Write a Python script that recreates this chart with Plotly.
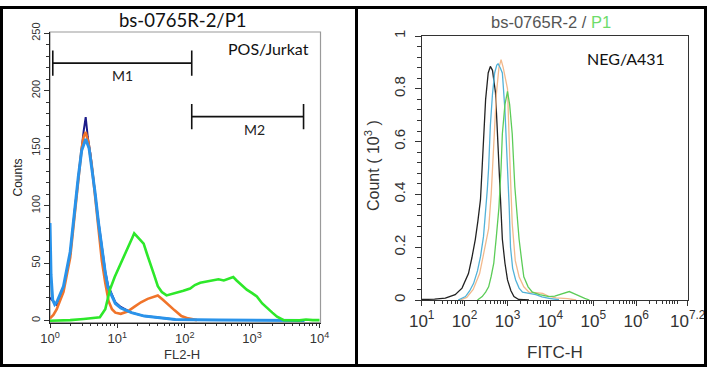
import math
import plotly.graph_objects as go

W, H = 707, 368

# ---------------- Left panel data (FL2-H vs Counts) ----------------
blue_x = [1.0, 1.035, 1.096, 1.175, 1.259, 1.585, 1.995, 2.344, 2.630, 2.951, 3.388, 3.802, 4.266,
          4.677, 5.248, 5.888, 6.607, 7.244, 8.318, 9.333, 11.22, 16.22, 25.12, 39.81, 72.44, 316.2, 2344, 6000]
blue_y = [85, 40, 18, 14, 16, 30, 60, 100, 125, 148, 158, 150, 130,
          111, 85, 61, 42, 29, 21, 15, 11, 7, 4, 2.5, 1, 0.6, 0.3, 0.2]

navy_x = [1.0, 1.259, 1.585, 1.995, 2.344, 2.630, 2.951, 3.162, 3.388, 3.631, 3.981, 4.266, 4.677,
          5.248, 5.888, 6.607, 7.244, 8.318, 9.333, 11.22, 16.22, 25.12, 39.81, 72.44]
navy_y = [20, 14, 28, 58, 98, 124, 152, 165, 177, 160, 145, 128, 110,
          86, 62, 43, 31, 22, 16, 12, 7, 4, 2.5, 1]

orange_x = [1.0, 1.122, 1.259, 1.585, 1.995, 2.344, 2.630, 2.951, 3.162, 3.388, 3.715, 4.169, 4.677,
            5.248, 5.888, 6.607, 7.413, 8.318, 9.333, 11.22, 14.13, 17.78, 22.39, 28.18, 35.48, 39.81,
            47.86, 56.23, 70.79, 89.13, 112.2, 151.4]
orange_y = [2, 5, 10, 25, 55, 95, 125, 150, 160, 164, 155, 135, 108,
            78, 52, 33, 17, 10, 7, 6, 8, 12, 16, 19, 21, 22,
            18, 14, 9, 4, 2, 0.5]

green_x = [1.0, 1.995, 3.162, 3.981, 5.495, 6.607, 7.762, 9.120, 10.96, 12.59, 14.45, 16.60, 17.78,
           19.95, 24.55, 27.54, 30.90, 35.48, 39.81, 45.71, 53.70, 63.10, 75.86, 95.50, 120.2, 141.3,
           169.8, 208.9, 263.0, 316.2, 380.2, 467.7, 524.8, 588.8, 707.9, 831.8, 1000, 1175, 1413,
           1660, 1995, 2344, 2951, 5012, 6310, 7943, 10000]
green_y = [0, 0.5, 1.5, 2, 3, 10, 27, 38, 48, 56, 64, 72, 76,
           73, 67, 58, 50, 39, 30, 25, 22, 23, 24, 26, 28, 31,
           33, 34, 35, 36, 35, 37, 38, 35, 31, 27, 24, 21, 15,
           11, 7, 3.5, 0.5, 0.3, 1, 0.5, 0.5]

# Gates: [x start, x end, count level]
gate_m1 = [1.1, 127, 224]
gate_m2 = [127, 5800, 177.5]
gate_half_height = 11

left_y_ticks = [0, 50, 100, 150, 200, 250]
left_x_ticks = [1, 10, 100, 1000, 10000]
left_x_text = ["10<sup>0</sup>", "10<sup>1</sup>", "10<sup>2</sup>", "10<sup>3</sup>", "10<sup>4</sup>"]

# ---------------- Right panel data (FITC-H vs Count x10^3) ----------------
black_x = [10, 19.95, 35.48, 60.26, 87.10, 123.0, 147.9, 177.8, 204.2, 234.4, 257.0, 281.8, 309.0,
           354.8, 398.1, 446.7, 524.8, 575.4, 631.0, 691.8, 758.6, 871.0, 1000, 1202, 1413, 1820, 3162]
black_y = [0.002, 0.003, 0.007, 0.02, 0.045, 0.1, 0.16, 0.23, 0.3, 0.38, 0.506, 0.64, 0.76,
           0.86, 0.885, 0.87, 0.785, 0.65, 0.506, 0.35, 0.23, 0.14, 0.076, 0.035, 0.013, 0.002, 0]

lblue_x = [70.79, 104.7, 131.8, 162.2, 199.5, 234.4, 275.4, 309.0, 338.8, 363.1, 398.1, 446.7, 501.2,
           562.3, 602.6, 676.1, 758.6, 871.0, 1000, 1096, 1175, 1318, 1549, 1862, 2239, 3162, 4571,
           6310, 9333, 15850]
lblue_y = [0, 0.013, 0.035, 0.063, 0.11, 0.164, 0.24, 0.33, 0.42, 0.5, 0.66, 0.78, 0.86,
           0.89, 0.895, 0.88, 0.86, 0.72, 0.53, 0.35, 0.2, 0.12, 0.076, 0.045, 0.03, 0.025, 0.02,
           0.012, 0.006, 0.001]

tan_x = [79.43, 112.2, 158.5, 223.9, 281.8, 363.1, 416.9, 478.6, 549.5, 631.0, 707.9, 794.3, 891.3,
         1000, 1122, 1288, 1514, 1862, 2399, 3162, 4467, 6607, 8913, 13490, 25120, 39810]
tan_y = [0, 0.01, 0.04, 0.1, 0.18, 0.27, 0.4, 0.6, 0.78, 0.88, 0.91, 0.88, 0.84,
         0.8, 0.55, 0.29, 0.15, 0.088, 0.05, 0.03, 0.028, 0.025, 0.015, 0.008, 0.005, 0]

rgreen_x = [199.5, 257.0, 309.0, 363.1, 416.9, 478.6, 549.5, 631.0, 707.9, 758.6, 871.0, 1000, 1122,
            1288, 1479, 1660, 1862, 2138, 2399, 3020, 3802, 5623, 9333, 12590, 15850, 21380, 27540,
            35480, 47860, 63100, 81280]
rgreen_y = [0, 0.013, 0.03, 0.05, 0.09, 0.14, 0.24, 0.35, 0.5, 0.63, 0.74, 0.79, 0.74,
            0.63, 0.43, 0.32, 0.23, 0.15, 0.088, 0.05, 0.03, 0.02, 0.013, 0.015, 0.02, 0.027, 0.032,
            0.024, 0.013, 0.006, 0]

right_y_ticks = [0, 0.2, 0.4, 0.6, 0.8, 1]
right_y_text = ["0", "0.2", "0.4", "0.6", "0.8", "1"]
right_x_ticks = [10, 100, 1000, 1e4, 1e5, 1e6, 10 ** 7.2]
right_x_text = ["10<sup>1</sup>", "10<sup>2</sup>", "10<sup>3</sup>", "10<sup>4</sup>",
                "10<sup>5</sup>", "10<sup>6</sup>", "10<sup>7.2</sup>"]


def px(x):
    return x / W


def py(y):
    return 1 - y / H


fig = go.Figure()

# Left traces
fig.add_trace(go.Scatter(x=navy_x, y=navy_y, mode="lines", line=dict(color="#1c1c8a", width=2),
                         xaxis="x", yaxis="y"))
fig.add_trace(go.Scatter(x=orange_x, y=orange_y, mode="lines", line=dict(color="#f0742a", width=2.6),
                         xaxis="x", yaxis="y"))
fig.add_trace(go.Scatter(x=blue_x, y=blue_y, mode="lines", line=dict(color="#2a93ea", width=3),
                         xaxis="x", yaxis="y"))
fig.add_trace(go.Scatter(x=green_x, y=green_y, mode="lines", line=dict(color="#2de82a", width=2.6),
                         xaxis="x", yaxis="y"))

# Gates
for g in (gate_m1, gate_m2):
    x0, x1, lvl = g
    fig.add_trace(go.Scatter(
        x=[x0, x1, None, x0, x0, None, x1, x1],
        y=[lvl, lvl, None, lvl - gate_half_height, lvl + gate_half_height, None,
           lvl - gate_half_height, lvl + gate_half_height],
        mode="lines", line=dict(color="#111111", width=1.6), xaxis="x", yaxis="y"))

# Right traces
fig.add_trace(go.Scatter(x=black_x, y=black_y, mode="lines", line=dict(color="#222222", width=1.3),
                         xaxis="x2", yaxis="y2"))
fig.add_trace(go.Scatter(x=tan_x, y=tan_y, mode="lines", line=dict(color="#f2b98c", width=1.3),
                         xaxis="x2", yaxis="y2"))
fig.add_trace(go.Scatter(x=lblue_x, y=lblue_y, mode="lines", line=dict(color="#52b2d8", width=1.3),
                         xaxis="x2", yaxis="y2"))
fig.add_trace(go.Scatter(x=rgreen_x, y=rgreen_y, mode="lines", line=dict(color="#5ccc58", width=1.3),
                         xaxis="x2", yaxis="y2"))

left_minor = [m * 10 ** e for e in range(0, 4) for m in range(2, 10)]
right_minor = [m * 10 ** e for e in range(1, 8) for m in range(2, 10) if m * 10 ** e < 10 ** 7.2]

tick_font_l = dict(family="Liberation Sans, Arial, sans-serif", size=11, color="#333333")
fig.update_layout(
    width=W, height=H, margin=dict(l=0, r=0, t=0, b=0, autoexpand=False),
    paper_bgcolor="white", plot_bgcolor="white", showlegend=False,
    xaxis=dict(type="log", domain=[px(50), px(320.5)], range=[0, 4.015], anchor="y",
               tickvals=left_x_ticks, ticktext=left_x_text, ticks="outside", ticklen=4,
               tickcolor="#333", showline=True, linecolor="#222", linewidth=1.2, showgrid=False,
               zeroline=False, automargin=False, ticklabelstandoff=0,
               tickfont=dict(family="Liberation Sans, Arial, sans-serif", size=13, color="#333333"),
               minor=dict(tickvals=left_minor, ticks="outside", ticklen=2.5, tickcolor="#333",
                          showgrid=False)),
    yaxis=dict(domain=[py(322.7), py(32)], range=[-1.74, 251.1], anchor="x",
               tickvals=left_y_ticks, ticks="outside", ticklen=5, tickcolor="#333",
               tickangle=-90, showline=True, linecolor="#222", linewidth=1.2, showgrid=False,
               zeroline=False, tickfont=tick_font_l, automargin=False,
               minor=dict(dtick=10, ticks="outside", ticklen=3, tickcolor="#333", showgrid=False)),
    xaxis2=dict(type="log", domain=[px(421.7), px(687.7)], range=[1, 7.2], anchor="y2",
                tickvals=right_x_ticks, ticktext=right_x_text, ticks="outside", ticklen=5,
                tickcolor="#333", showline=True, linecolor="#333", linewidth=1.2, mirror=True,
                showgrid=False, zeroline=False, automargin=False,
                tickfont=dict(family="Liberation Sans, Arial, sans-serif", size=17, color="#333333"),
                minor=dict(tickvals=right_minor, ticks="outside", ticklen=3, tickcolor="#333",
                           showgrid=False)),
    yaxis2=dict(domain=[py(300), py(36)], range=[0, 1], anchor="x2",
                tickvals=right_y_ticks, ticktext=right_y_text, ticks="outside", ticklen=6,
                tickcolor="#333", tickangle=-90, showline=True, linecolor="#333", linewidth=1.2,
                mirror=True, showgrid=False, zeroline=False, automargin=False,
                ticklabelstandoff=4,
                tickfont=dict(family="Liberation Sans, Arial, sans-serif", size=15, color="#333333"),
                minor=dict(dtick=0.04, ticks="outside", ticklen=3.5, tickcolor="#333",
                           showgrid=False)),
)

# Left frame (gray top/right)
fig.add_shape(type="rect", xref="x domain", yref="y domain", x0=0, x1=1, y0=0, y1=1,
              line=dict(color="#9a9a9a", width=1.2), layer="below")

# Outer border and divider
fig.add_shape(type="rect", xref="paper", yref="paper", x0=px(1.5), x1=px(705.5), y0=py(365.5),
              y1=py(7.5), line=dict(color="black", width=3))
fig.add_shape(type="line", xref="paper", yref="paper", x0=px(356.5), x1=px(356.5), y0=py(365.5),
              y1=py(7.5), line=dict(color="black", width=3))

calibri = "Lato, Open Sans, sans-serif"
arial = "Liberation Sans, Arial, sans-serif"
annos = [
    dict(text="bs-0765R-2/P1", x=px(183), y=py(20), font=dict(family=calibri, size=18.5, color="#111")),
    dict(text="POS/Jurkat", x=px(268.5), y=py(48), font=dict(family=calibri, size=16, color="#111")),
    dict(text="NEG/A431", x=px(626), y=py(58), font=dict(family=calibri, size=16, color="#111")),
    dict(text="bs-0765R-2 / <span style='color:#6ddc6a'>P1</span>", x=px(551), y=py(22),
         font=dict(family=arial, size=16.5, color="#555")),
    dict(text="Counts", x=px(17.5), y=py(178), textangle=-90, font=dict(family=arial, size=12, color="#222")),
    dict(text="Count ( 10<sup>3</sup> )", x=px(372), y=py(166), textangle=-90,
         font=dict(family=arial, size=16, color="#333")),
    dict(text="FL2-H", x=px(182), y=py(354), font=dict(family=arial, size=13, color="#333")),
    dict(text="FITC-H", x=px(555), y=py(352), font=dict(family=arial, size=17, color="#333")),
]
for a in annos:
    fig.add_annotation(xref="paper", yref="paper", showarrow=False, xanchor="center",
                       yanchor="middle", **a)

# Gate labels (log-axis annotation coordinates are in log10 units)
fig.add_annotation(xref="x", yref="y", x=math.log10(math.sqrt(gate_m1[0] * gate_m1[1])),
                   y=gate_m1[2] - 11, text="M1", showarrow=False,
                   font=dict(family=calibri, size=14, color="#222"))
fig.add_annotation(xref="x", yref="y", x=math.log10(math.sqrt(gate_m2[0] * gate_m2[1])) + 0.1,
                   y=gate_m2[2] - 11, text="M2", showarrow=False,
                   font=dict(family=calibri, size=14, color="#222"))

fig.write_html("out.html", config={"displayModeBar": False},
               post_script="document.body.style.margin='0';document.body.style.overflow='hidden';")
